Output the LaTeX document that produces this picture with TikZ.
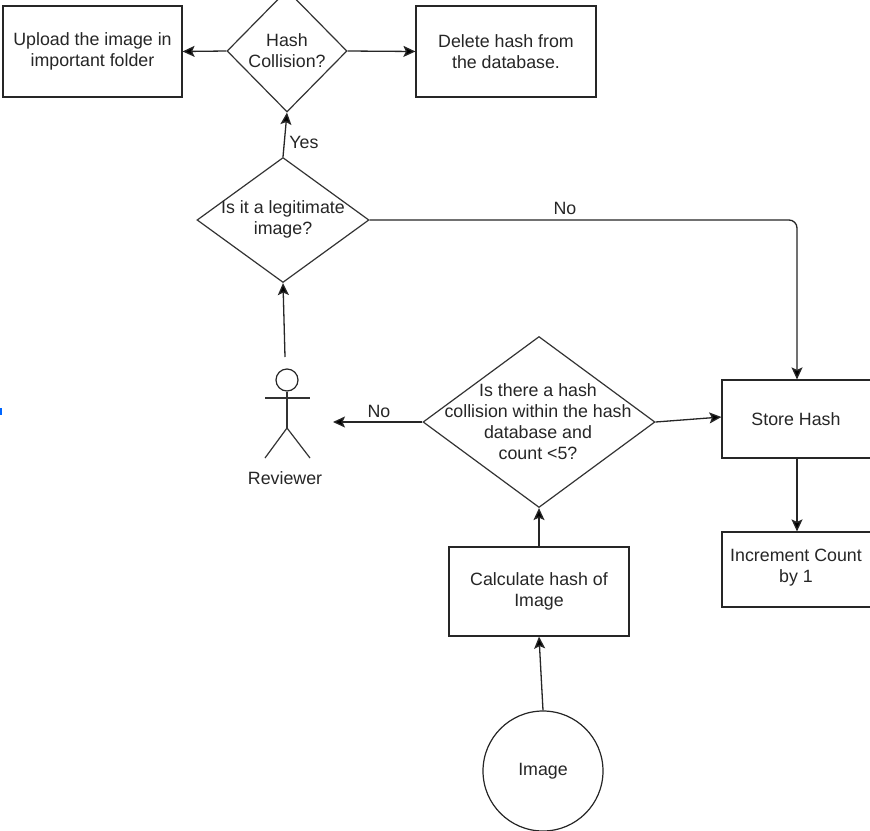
\documentclass[tikz,border=0pt]{standalone}
\usepackage{fontspec}
\setmainfont{Liberation Sans}
\usetikzlibrary{shapes.geometric,arrows.meta}
\begin{document}
\begin{tikzpicture}[x=1pt,y=-1pt,
  every node/.style={font=\fontsize{17.8}{21}\selectfont, text=black!85},
  box/.style={draw=black!85, line width=1.2pt, rectangle, inner sep=0pt, align=center},
  dia/.style={draw=black!80, line width=1.2pt, diamond, inner sep=0pt},
  lbl/.style={align=center, inner sep=0pt},
  arr/.style={draw=black!85, line width=1.3pt, -{Stealth[length=12pt,width=11pt,inset=2.5pt,fill=black]}},
  ln/.style={draw=black!80, line width=1.2pt}]
\useasboundingbox (0,0) rectangle (870,830);
\fill[white] (0,0) rectangle (870,830);
% small blue mark at left edge
\fill[blue!60!cyan] (0,408) rectangle (1.8,415);

% boxes
\node[box, minimum width=179pt, minimum height=91pt] (upload) at (92.5,51.5) {Upload the image in\\important folder};
\node[box, minimum width=180pt, minimum height=91pt] (delete) at (506,51.5) {Delete hash from\\the database.};
\node[box, minimum width=150pt, minimum height=78pt] (store) at (797,419) {};
\node[lbl] (storet) at (796,419) {Store Hash};
\node[box, minimum width=150pt, minimum height=75pt] (inc) at (797,569.5) {};
\node[lbl] (inct) at (796,568) {Increment Count\\by 1};
\node[box, minimum width=180pt, minimum height=89pt] (calc) at (539,591.5) {Calculate hash of\\Image};
\node[draw=black!85, line width=1.2pt, circle, minimum size=120pt, inner sep=0pt] (img) at (543,771) {Image};

% diamonds
\node[dia, minimum width=120pt, minimum height=122pt] (hash) at (287,51) {};
\node[lbl] (hasht) at (287,51) {Hash\\Collision?};
\node[dia, minimum width=172pt, minimum height=125pt] (legit) at (283,220) {};
\node[lbl] (legitt) at (283,219) {Is it a legitimate\\image?};
\node[dia, minimum width=232pt, minimum height=171pt] (coll) at (539,422) {};
\node[lbl] (collt) at (538,421.5) {Is there a hash\\collision within the hash\\database and\\count <5?};

% actor
\node[draw=black!85, line width=1.2pt, circle, minimum size=22pt, inner sep=0pt] (head) at (287,380) {};
\coordinate (hip) at (287,428);
\draw[ln] (head.south) -- (hip);
\draw[ln] (265,398) -- (310,398);
\draw[ln] (265,458) -- (hip) -- (310,458);
\node[lbl] (revl) at (285,478) {Reviewer};
\coordinate (revtop) at (285,357);
\coordinate (noend) at (333,422);

% connectors
\draw[arr] (hash.west) -- (upload.east);
\draw[arr] (hash.east) -- (delete.west);
\draw[arr] (legit.north) -- (hash.south);
\node[lbl] (yes) at (304,142) {Yes};
\draw[arr, rounded corners=8pt] (legit.east) -| (store.north);
\node[lbl] (no1) at (565,208) {No};
\draw[arr] (revtop) -- (legit.south);
\draw[arr] (coll.west) -- (noend);
\node[lbl] (no2) at (379,411) {No};
\draw[arr] (coll.east) -- ([yshift=2pt]store.west);
\draw[arr] (store.south) -- (inc.north);
\draw[arr] (calc.north) -- (coll.south);
\draw[arr] (img.north) -- (calc.south);
\end{tikzpicture}
\end{document}
